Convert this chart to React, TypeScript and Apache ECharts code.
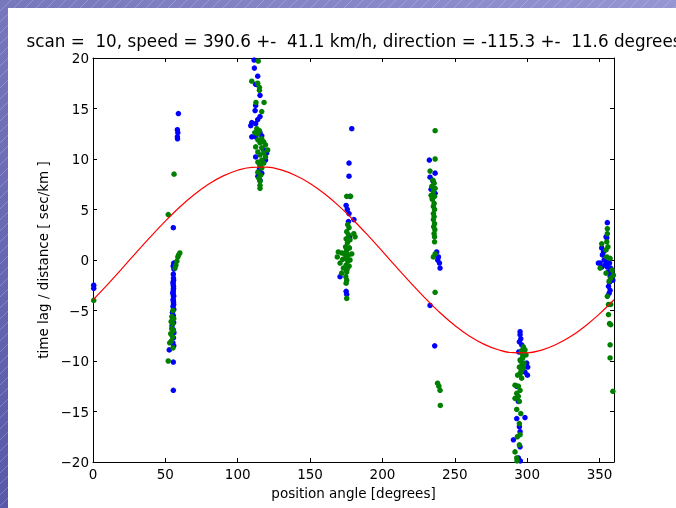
import React, { useEffect, useRef } from 'react';
import * as echarts from 'echarts';

// ---- data ----
const xTicks = [0, 50, 100, 150, 200, 250, 300, 350];
const yTicks = [-20, -15, -10, -5, 0, 5, 10, 15, 20];

const titleText = 'scan =  10, speed = 390.6 +-  41.1 km/h, direction = -115.3 +-  11.6 degrees';
const xName = 'position angle [degrees]';
const yName = 'time lag / distance [ sec/km ]';

// fitted curve samples (every 10 degrees)
const lineAngles = [0, 10, 20, 30, 40, 50, 60, 70, 80, 90, 100, 110, 120, 130, 140, 150, 160, 170, 180,
  190, 200, 210, 220, 230, 240, 250, 260, 270, 280, 290, 300, 310, 320, 330, 340, 350, 360];
const lineValues = [-3.94, -2.43, -0.85, 0.76, 2.34, 3.85, 5.25, 6.48, 7.52, 8.33, 8.89, 9.18, 9.19, 8.92,
  8.37, 7.58, 6.55, 5.33, 3.94, 2.43, 0.85, -0.76, -2.34, -3.85, -5.25, -6.48, -7.52, -8.33, -8.89, -9.18,
  -9.19, -8.92, -8.37, -7.58, -6.55, -5.33, -3.94];

const blueEdge: [number, number][] = [[0.5, -2.5], [0.5, -2.8]];
const greenEdge: [number, number][] = [[0.5, -4.0]];

const blue55: [number, number][] = [
  [55.5, 3.2], [59.0, 14.5], [58.3, 12.9], [58.6, 12.6], [58.3, 12.2], [58.4, 12.0],
  [55.8, -0.3], [56.0, -0.5], [55.4, -0.6], [55.9, -0.9], [55.5, -1.4], [55.6, -1.8], [55.7, -2.0], [55.3, -2.2],
  [55.4, -2.4], [55.6, -2.6], [55.6, -2.8], [55.5, -3.0], [55.3, -3.2], [55.2, -3.3], [55.6, -3.5], [55.7, -3.6],
  [55.4, -3.9], [55.5, -4.0], [55.6, -4.2], [55.7, -4.4], [55.3, -4.6], [55.8, -4.9], [54.9, -5.2], [55.5, -5.5],
  [55.0, -5.9], [55.7, -6.2], [54.6, -6.5], [55.4, -6.9], [55.9, -7.2], [54.8, -7.5], [55.6, -7.7], [55.2, -8.2],
  [55.8, -8.5], [52.7, -8.9], [55.5, -10.1], [55.5, -12.9],
];
const green55: [number, number][] = [
  [52.0, 4.5], [56.0, 8.5], [56.7, -0.8], [57.3, -0.5], [58.0, -0.1], [58.6, 0.3], [59.2, 0.5], [60.0, 0.7],
  [55.2, -5.0], [54.5, -5.6], [55.8, -5.8], [54.0, -6.1], [55.0, -6.3], [54.4, -6.8], [55.6, -7.0], [53.7, -7.3],
  [55.1, -7.6], [53.0, -8.2], [54.2, -8.0], [55.3, -8.7], [52.0, -10.0],
];

const blue113: [number, number][] = [
  [111.3, 19.8], [111.5, 19.0], [113.8, 18.2], [112.4, 17.4], [115.4, 16.3], [112.4, 15.3], [112.0, 14.8],
  [115.4, 14.2], [113.8, 13.9], [109.7, 13.6], [112.4, 13.5], [109.0, 13.3], [115.4, 12.6], [116.6, 12.3],
  [112.4, 12.2], [109.7, 12.2], [118.0, 10.9], [120.0, 10.6], [112.4, 10.2], [119.2, 9.9], [115.4, 9.4],
  [115.0, 9.0], [116.6, 8.6], [113.9, 8.3], [115.4, 7.9],
];
const green113: [number, number][] = [
  [114.2, 19.7], [109.7, 17.7], [113.8, 17.5], [115.0, 17.1], [115.0, 16.8], [112.6, 15.6], [118.2, 15.6],
  [116.6, 14.7], [113.2, 13.0], [115.0, 12.8], [111.8, 12.6], [113.9, 12.5], [116.6, 12.0], [113.9, 11.9],
  [118.0, 11.7], [115.4, 11.6], [119.2, 11.4], [112.4, 11.2], [116.6, 11.1], [120.7, 10.9], [113.9, 10.7],
  [118.0, 10.6], [115.4, 10.4], [119.2, 10.2], [116.6, 9.9], [113.9, 9.7], [118.0, 9.6], [115.4, 9.4],
  [116.6, 9.1], [113.9, 8.7], [115.8, 8.4], [114.6, 8.1], [115.4, 7.8], [115.4, 7.4], [115.4, 7.1],
];

const blue177: [number, number][] = [
  [178.8, 13.0], [176.9, 9.6], [176.9, 8.3], [177.6, 6.3], [174.9, 5.4], [175.7, 5.0], [176.9, 4.6],
  [180.3, 4.0], [176.5, 3.8], [175.9, 2.0], [177.2, 2.3], [174.7, 0.7], [170.7, -1.65], [174.9, -3.1],
  [175.3, -3.4],
];
const green177: [number, number][] = [
  [175.3, 6.3], [178.0, 6.3], [176.0, 3.5], [176.9, 3.2], [175.3, 2.8], [176.5, 2.5], [180.2, 2.6],
  [181.1, 2.3], [174.9, 2.1], [177.6, 2.0], [175.8, 1.7], [174.5, 1.3], [177.2, 1.2], [175.5, 1.0],
  [175.0, 0.9], [169.5, 0.8], [171.8, 0.7], [178.8, 0.6], [173.7, 0.6], [176.5, 0.5], [174.8, 0.4],
  [168.8, 0.3], [175.3, 0.2], [172.5, 0.07], [177.6, 0.0], [176.0, -0.1], [170.7, -0.3], [174.9, -0.5],
  [177.0, -0.6], [173.0, -0.8], [175.6, -0.9], [175.2, -1.0], [175.3, -1.2], [171.8, -1.3], [174.7, -1.65],
  [175.3, -2.0], [174.9, -2.3], [175.3, -3.8],
];

const blue235: [number, number][] = [
  [232.4, 9.9], [236.4, 8.6], [232.9, 8.2], [235.0, 7.8], [233.6, 7.0], [236.4, 6.6], [234.5, 6.1],
  [237.5, 0.8], [238.7, 0.3], [238.2, 0.0], [239.4, -0.3], [239.8, -0.8], [232.9, -4.5], [236.1, -8.5],
];
const green235: [number, number][] = [
  [236.4, 12.8], [236.4, 10.0], [232.9, 8.8], [234.8, 7.9], [235.7, 7.6], [234.1, 7.3], [236.4, 7.1],
  [235.2, 6.8], [233.6, 6.4], [236.0, 6.3], [234.5, 6.0], [235.7, 5.6], [235.2, 5.3], [236.0, 5.0],
  [235.2, 4.6], [235.7, 4.3], [235.2, 4.0], [236.0, 3.6], [235.4, 3.3], [236.2, 3.0], [235.7, 2.6],
  [236.0, 2.3], [236.0, 1.8], [236.4, 0.6], [235.2, 0.3], [236.4, -3.2], [238.1, -12.2], [239.0, -12.5],
  [239.8, -12.9], [240.0, -14.4],
];

const blue295: [number, number][] = [
  [295.1, -7.1], [295.1, -7.4], [295.6, -7.8], [294.6, -8.1], [296.2, -8.4], [297.6, -8.8], [294.2, -9.1],
  [299.7, -10.2], [300.4, -10.6], [298.5, -11.1], [300.2, -11.4], [292.8, -12.5], [293.9, -14.0],
  [298.5, -15.6], [292.8, -15.7], [294.6, -16.5], [295.1, -17.0], [290.5, -17.8], [295.1, -18.5],
  [293.9, -19.6], [295.3, -19.9],
];
const green295: [number, number][] = [
  [297.4, -8.6], [298.5, -8.9], [296.0, -9.0], [296.2, -9.2], [299.2, -9.4], [297.0, -9.5], [296.9, -9.7],
  [295.1, -9.9], [295.5, -10.0], [297.8, -10.2], [296.5, -10.4], [294.6, -10.6], [297.4, -10.7],
  [296.0, -10.9], [295.6, -11.1], [295.0, -11.3], [293.4, -11.4], [296.2, -11.7], [291.6, -12.4],
  [293.9, -12.5], [295.1, -12.9], [292.8, -13.2], [293.9, -13.5], [291.6, -13.7], [294.6, -14.0],
  [292.8, -14.8], [295.6, -15.2], [294.6, -16.2], [295.1, -17.3], [293.2, -17.5], [294.6, -18.3],
  [291.6, -19.0], [292.8, -19.6], [293.0, -19.9],
];

const blue355: [number, number][] = [
  [355.4, 3.7], [354.5, 2.3], [355.0, 2.2], [351.5, 1.2], [352.7, 0.8], [352.0, 0.5], [350.4, -0.3],
  [349.2, -0.3], [353.2, 0.0], [355.0, -0.2], [356.9, -0.3], [353.8, -0.5], [355.4, -0.7], [357.7, -0.8],
  [351.5, -0.7], [356.2, -1.2], [358.5, -1.3], [357.3, -1.6], [359.2, -2.0], [356.9, -2.2], [356.2, -2.6],
  [357.3, -3.0], [356.6, -3.3],
];
const green355: [number, number][] = [
  [355.4, 3.1], [355.4, 2.6], [351.5, 1.6], [355.0, 1.8], [355.8, 1.3], [354.5, 1.0], [350.4, -0.8],
  [355.0, 0.3], [357.3, 0.17], [358.7, -1.0], [359.6, -1.5], [357.7, -1.8], [354.5, -1.3], [356.6, -2.1],
  [355.4, -3.6], [356.2, -4.4], [357.7, -4.4], [356.2, -5.4], [356.9, -6.3], [357.7, -6.4], [357.3, -8.4],
  [357.3, -9.7], [359.2, -13.0],
];

const bluePoints = [...blueEdge, ...blue55, ...blue113, ...blue177, ...blue235, ...blue295, ...blue355];
const greenPoints = [...greenEdge, ...green55, ...green113, ...green177, ...green235, ...green295, ...green355];

const W = 676;
const H = 508;
const FONT = 'DejaVu Sans';

const minus = (v: number) => String(v).replace('-', '\u2212');

export default function App() {
  const ref = useRef<HTMLDivElement>(null);

  useEffect(() => {
    if (!ref.current) return;
    const chart = echarts.init(ref.current, null, { renderer: 'svg' });

    const deco: any[] = [];
    deco.push({
      type: 'rect', z: -100, silent: true,
      shape: { x: 0, y: 0, width: W, height: H },
      style: {
        fill: {
          type: 'linear', x: 0, y: 1, x2: 1, y2: 0,
          colorStops: [{ offset: 0, color: '#5758a8' }, { offset: 1, color: '#9696d2' }],
        },
      },
    });
    for (let k = -H; k < W; k += 11) {
      deco.push({
        type: 'line', z: -99, silent: true,
        shape: { x1: k, y1: H, x2: k + H, y2: 0 },
        style: { stroke: 'rgba(255,255,255,0.3)', lineWidth: 0.7 },
      });
    }
    deco.push({
      type: 'rect', z: -98, silent: true,
      shape: { x: 8, y: 8, width: W - 8, height: H - 8 },
      style: { fill: '#ffffff' },
    });
    deco.push({
      type: 'text', z: 10, silent: true,
      x: 354, y: 41,
      style: {
        text: titleText, fill: '#000', fontSize: 16.8, fontFamily: FONT,
        align: 'center', verticalAlign: 'middle',
      },
    });

    const xBase = {
      type: 'value', min: 0, max: 360, interval: 50,
      splitLine: { show: false },
      axisLine: { onZero: false, lineStyle: { color: '#000', width: 1 } },
      axisTick: { inside: true, length: 4, lineStyle: { color: '#000' } },
    };
    const yBase = {
      type: 'value', min: -20, max: 20, interval: 5,
      splitLine: { show: false },
      axisLine: { onZero: false, lineStyle: { color: '#000', width: 1 } },
      axisTick: { inside: true, length: 4, lineStyle: { color: '#000' } },
    };

    chart.setOption({
      animation: false,
      backgroundColor: 'transparent',
      textStyle: { fontFamily: FONT },
      graphic: { elements: deco },
      grid: { left: 93, right: W - 614, top: 58, bottom: H - 462, containLabel: false },
      xAxis: [
        {
          ...xBase, position: 'bottom',
          name: xName, nameLocation: 'middle', nameGap: 23,
          nameTextStyle: { color: '#000', fontSize: 13.5, fontFamily: FONT },
          axisLabel: {
            color: '#000', fontSize: 13.5, fontFamily: FONT, margin: 5,
            formatter: (v: number) => (xTicks.includes(v) ? minus(v) : ''),
          },
        },
        { ...xBase, position: 'top', axisLabel: { show: false } },
      ],
      yAxis: [
        {
          ...yBase, position: 'left',
          name: yName, nameLocation: 'middle', nameGap: 33, nameRotate: 90,
          nameTextStyle: { color: '#000', fontSize: 13.5, fontFamily: FONT },
          axisLabel: {
            color: '#000', fontSize: 13.5, fontFamily: FONT, margin: 4,
            formatter: (v: number) => (yTicks.includes(v) ? minus(v) : ''),
          },
        },
        { ...yBase, position: 'right', axisLabel: { show: false } },
      ],
      series: [
        {
          type: 'scatter', name: 'blue', xAxisIndex: 0, yAxisIndex: 0,
          data: bluePoints, symbol: 'circle', symbolSize: 5.5,
          itemStyle: { color: '#0000ff', opacity: 1 }, z: 2,
        },
        {
          type: 'scatter', name: 'green', xAxisIndex: 0, yAxisIndex: 0,
          data: greenPoints, symbol: 'circle', symbolSize: 5.5,
          itemStyle: { color: '#008000', opacity: 1 }, z: 3,
        },
        {
          type: 'line', name: 'fit', xAxisIndex: 0, yAxisIndex: 0,
          data: lineAngles.map((a, i) => [a, lineValues[i]]),
          showSymbol: false, smooth: 0.4,
          lineStyle: { color: '#ff0000', width: 1.2 }, z: 4,
        },
      ],
    });

    return () => chart.dispose();
  }, []);

  return (
    <div
      ref={ref}
      style={{ position: 'fixed', left: 0, top: 0, width: W, height: H }}
    />
  );
}
